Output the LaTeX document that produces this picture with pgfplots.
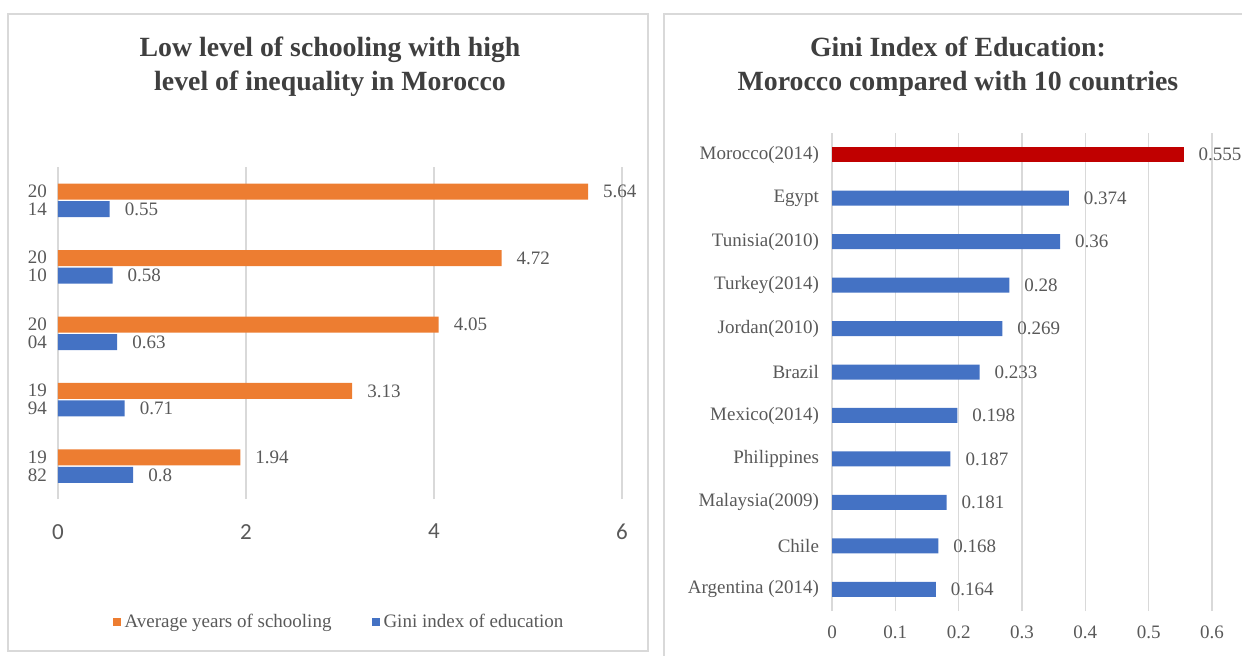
\documentclass[border=0pt]{standalone}
\usepackage{pgfplots}
\pgfplotsset{compat=1.18}
\usepackage{fontspec}
\setmainfont{Liberation Serif}
\newfontfamily\carlito{Carlito}

\definecolor{barorange}{HTML}{ED7D31}
\definecolor{barblue}{HTML}{4472C4}
\definecolor{barred}{HTML}{C00000}
\definecolor{txtgray}{HTML}{595959}
\definecolor{titlegray}{HTML}{3F3F3F}
\definecolor{gridgray}{HTML}{D9D9D9}
\definecolor{framegray}{HTML}{D9D9D9}

\pgfplotsset{
  panel/.style={
    scale only axis,
    axis line style={draw=none},
    major tick length=0pt,
    xmajorgrids,
    grid style={gridgray, line width=0.6pt},
    tick label style={text=txtgray},
    /pgf/number format/assume math mode=true,
    point meta=explicit symbolic,
    nodes near coords={\pgfplotspointmeta},
    every node near coord/.append style={font=\fontsize{9.5}{11}\selectfont, text=txtgray, anchor=west, xshift=4pt},
  },
  squarelegend/.style={legend image code/.code={\fill[##1, draw=none] (0pt,-2pt) rectangle (4pt,2pt);}},
}

\begin{document}
\begin{tikzpicture}
  \path[use as bounding box] (0pt,0pt) rectangle (621pt,-327.5pt);

  % panel frames
  \draw[framegray, line width=0.6pt] (4pt,-7pt) rectangle (324pt,-325.5pt);
  \draw[framegray, line width=0.6pt] (332pt,-7pt) rectangle (645pt,-340pt);

  % titles
  \node[align=center, font=\fontsize{13.9}{17}\selectfont\bfseries, text=titlegray]
    at (165pt,-33.5pt) {Low level of schooling with high\\level of inequality in Morocco};
  \node[align=center, font=\fontsize{13.9}{17}\selectfont\bfseries, text=titlegray]
    at (479pt,-33.5pt) {Gini Index of Education:\\Morocco compared with 10 countries};

  % left panel: schooling and Gini index of education by year
  \begin{axis}[panel,
    at={(29pt,-249.5pt)}, anchor=south west,
    width=282pt, height=166pt,
    xbar, bar width=8pt,
    xmin=0, xmax=6, xtick={0,2,4,6},
    ymin=-0.5, ymax=4.5, ytick={0,1,2,3,4},
    yticklabels={{19\\82},{19\\94},{20\\04},{20\\10},{20\\14}},
    yticklabel style={align=center, font=\fontsize{9.5}{9}\selectfont, xshift=-2pt},
    xticklabel style={font=\carlito\fontsize{11.5}{13}\selectfont, yshift=-9pt},
    legend style={at={(0.5,-0.37)}, anchor=center, draw=none, fill=none,
      font=\fontsize{9.5}{11}\selectfont, text=txtgray, legend columns=2,
      /tikz/every even column/.append style={column sep=18pt},
      legend cell align=left, inner sep=0pt},
    squarelegend,
  ]
    \addplot[fill=barorange, draw=none, bar shift=4.25pt] coordinates {
      (1.94,0) [1.94]
      (3.13,1) [3.13]
      (4.05,2) [4.05]
      (4.72,3) [4.72]
      (5.64,4) [5.64]
    };
    \addlegendentry{Average years of schooling}
    \addplot[fill=barblue, draw=none, bar shift=-4.5pt] coordinates {
      (0.8,0) [0.8]
      (0.71,1) [0.71]
      (0.63,2) [0.63]
      (0.58,3) [0.58]
      (0.55,4) [0.55]
    };
    \addlegendentry{Gini index of education}
  \end{axis}

  % right panel: Gini index of education across countries
  \begin{axis}[panel,
    at={(416pt,-305.5pt)}, anchor=south west,
    width=190pt, height=239pt,
    xbar, bar width=7.5pt,
    xmin=0, xmax=0.6, xtick={0,0.1,0.2,0.3,0.4,0.5,0.6},
    xticklabel style={font=\fontsize{9.5}{11}\selectfont, yshift=-4pt,
      /pgf/number format/.cd, fixed, precision=1},
    ymin=-0.5, ymax=10.5, ytick={0,...,10},
    yticklabels={Argentina (2014),Chile,Malaysia(2009),Philippines,Mexico(2014),Brazil,Jordan(2010),Turkey(2014),Tunisia(2010),Egypt,Morocco(2014)},
    yticklabel style={font=\fontsize{9.5}{11}\selectfont, xshift=-3pt},
  ]
    \addplot[fill=barblue, draw=none, bar shift=0pt] coordinates {
      (0.164,0) [0.164]
      (0.168,1) [0.168]
      (0.181,2) [0.181]
      (0.187,3) [0.187]
      (0.198,4) [0.198]
      (0.233,5) [0.233]
      (0.269,6) [0.269]
      (0.28,7) [0.28]
      (0.36,8) [0.36]
      (0.374,9) [0.374]
    };
    \addplot[fill=barred, draw=none, bar shift=0pt] coordinates {
      (0.555,10) [0.555]
    };
  \end{axis}
\end{tikzpicture}
\end{document}
